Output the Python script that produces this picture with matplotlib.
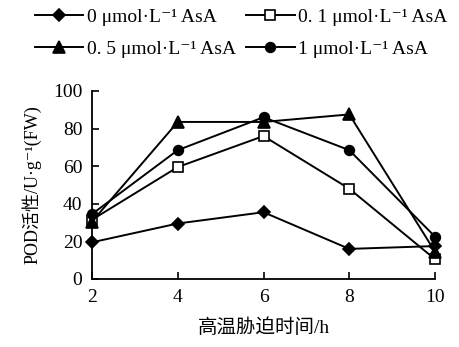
import matplotlib
matplotlib.use("Agg")
import matplotlib.pyplot as plt

plt.rcParams['font.family'] = ['Liberation Serif', 'Noto Sans CJK SC', 'DejaVu Sans']

# POD activity under heat stress with different AsA levels
hours = [2, 4, 6, 8, 10]
asa_0 = [19.5, 29.5, 35.5, 16.0, 17.5]
asa_01 = [31.5, 59.5, 76.0, 48.0, 10.5]
asa_05 = [30.5, 83.5, 83.5, 87.5, 14.5]
asa_1 = [34.5, 68.5, 86.0, 68.5, 22.5]

labels = ["0 μmol·L⁻¹ AsA", "0. 1 μmol·L⁻¹ AsA",
          "0. 5 μmol·L⁻¹ AsA", "1 μmol·L⁻¹ AsA"]
markers = ["D", "s", "^", "o"]
facecolors = ["black", "white", "black", "black"]
sizes = [6, 7, 8, 7]

fig = plt.figure(figsize=(4.59, 3.47), dpi=100)
ax = fig.add_axes([0.2004, 0.196, 0.7474, 0.542])

handles = []
for ys, lab, m, fc, ms in zip([asa_0, asa_01, asa_05, asa_1], labels,
                              markers, facecolors, sizes):
    h, = ax.plot(hours, ys, color="black", lw=1.4, marker=m, ms=ms,
                 mfc=fc, mec="black", mew=1.2, label=lab, clip_on=False)
    handles.append(h)

ax.set_xlim(2, 10)
ax.set_ylim(0, 100)
ax.set_xticks(hours)
ax.set_yticks(range(0, 101, 20))
ax.spines['top'].set_visible(False)
ax.spines['right'].set_visible(False)
ax.tick_params(direction='in', length=5, width=1.2, labelsize=14, pad=7)
for s in ['left', 'bottom']:
    ax.spines[s].set_linewidth(1.3)

ax.set_xlabel("高温胁迫时间/h", fontsize=14, labelpad=9)
ax.set_ylabel("POD活性/U·g⁻¹(FW)", fontsize=13, labelpad=8)

# column-major fill: 0 and 0.5 in the first column
order = [0, 2, 1, 3]
fig.legend(handles=[handles[i] for i in order], loc="upper left",
           bbox_to_anchor=(0.05, 1.01), ncol=2, frameon=False, fontsize=14,
           handlelength=2.5, handletextpad=0.2, columnspacing=0.5,
           labelspacing=0.75, borderaxespad=0.2)

fig.savefig("out.png", dpi=100)
